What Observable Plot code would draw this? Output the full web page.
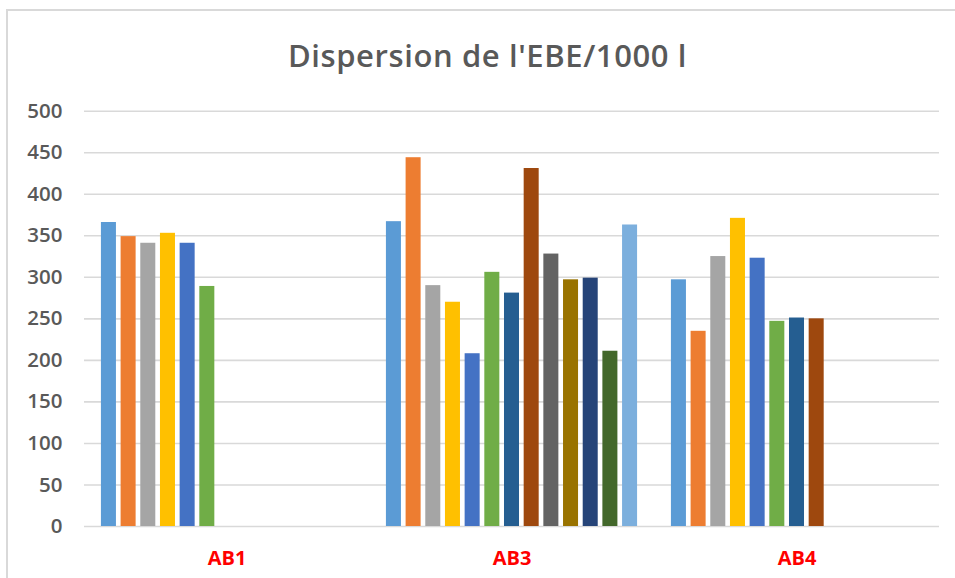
<!DOCTYPE html>
<html>
<head>
<meta charset="utf-8">
<script src="https://cdn.jsdelivr.net/npm/d3@7"></script>
<script src="https://cdn.jsdelivr.net/npm/@observablehq/plot@0.6"></script>
<style>
  html, body { margin: 0; padding: 0; background: #fff; }
  #wrap { position: relative; width: 955px; height: 578px; overflow: hidden; }
  #frame { position: absolute; left: 6px; top: 9px; width: 1000px; height: 620px;
           border: 2px solid #d9d9d9; box-sizing: border-box; }
  #title { position: absolute; left: 0; width: 975px; top: 40px; text-align: center;
           font-family: "Open Sans", sans-serif; font-weight: 600; font-size: 31px;
           line-height: 31px; letter-spacing: 0.6px; color: #595959; }
  #chart { position: absolute; left: 0; top: 0; }
</style>
</head>
<body>
<div id="wrap">
  <div id="frame"></div>
  <div id="title">Dispersion de l'EBE/1000 l</div>
  <div id="chart"></div>
</div>
<script>
const groups = ["AB1", "AB3", "AB4"];
const ab1Values = [366, 349, 341, 353, 341, 289];
const ab3Values = [367, 444, 290, 270, 208, 306, 281, 431, 328, 297, 299, 211, 363];
const ab4Values = [297, 235, 325, 371, 323, 247, 251, 250];
const seriesColors = ["#5B9BD5", "#ED7D31", "#A5A5A5", "#FFC000", "#4472C4", "#70AD47",
  "#255E91", "#9E480E", "#636363", "#997300", "#264478", "#43682B", "#7CAFDD"];
const yTicks = [0, 50, 100, 150, 200, 250, 300, 350, 400, 450, 500];

const valuesByGroup = [ab1Values, ab3Values, ab4Values];
const rows = [];
groups.forEach((g, gi) => {
  valuesByGroup[gi].forEach((v, i) => rows.push({group: g, s: i, value: v}));
});
const slots = d3.range(seriesColors.length);

const chart = Plot.plot({
  width: 955,
  height: 578,
  marginTop: 110.7,
  marginBottom: 52,
  marginLeft: 84,
  marginRight: 16,
  fx: {domain: groups, padding: 0, round: false, label: null},
  x: {domain: slots, paddingInner: 0.237, paddingOuter: 0.86, round: false, axis: null},
  y: {domain: [0, 500], label: null},
  style: {fontFamily: "Open Sans, sans-serif", background: "transparent"},
  marks: [
    Plot.ruleY(yTicks, {stroke: "#d9d9d9", strokeWidth: 1.6}),
    Plot.barY(rows, {fx: "group", x: "s", y: "value", fill: d => seriesColors[d.s]}),
    Plot.axisY({ticks: yTicks, tickSize: 0, tickPadding: 22, fontSize: 20.5, fontWeight: 600,
      fill: "#595959", label: null, tickFormat: d => String(d)}),
    Plot.axisFx({anchor: "bottom", tickSize: 0, tickPadding: 24, fontSize: 20, fontWeight: 700,
      fill: "#FF0000", label: null})
  ]
});
document.getElementById("chart").appendChild(chart);
</script>
</body>
</html>
